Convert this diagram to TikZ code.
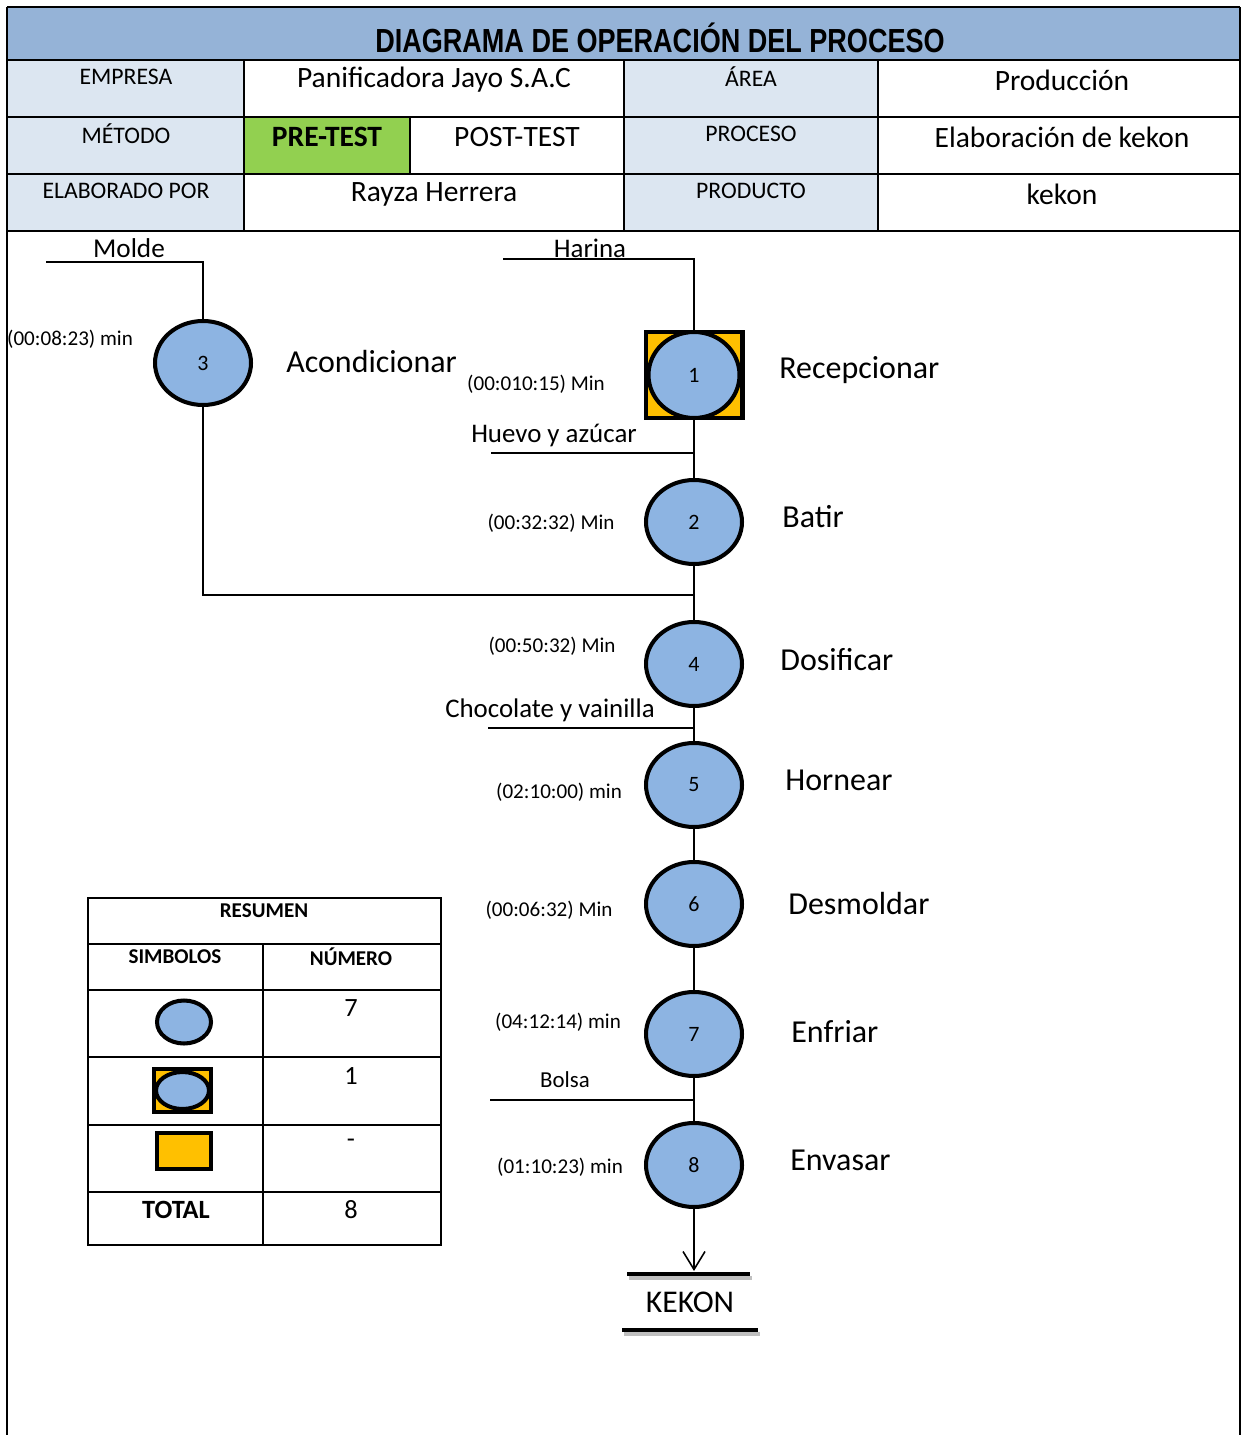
\documentclass[tikz,border=0pt]{standalone}
\usepackage{fontspec}
\setmainfont{Carlito}
\newfontfamily\titlefont[FakeStretch=0.81]{Liberation Sans}
\usetikzlibrary{shapes.geometric,arrows.meta}

\definecolor{headblue}{HTML}{95B3D7}
\definecolor{cellblue}{HTML}{DCE6F1}
\definecolor{pregreen}{HTML}{92D050}
\definecolor{opblue}{HTML}{8DB4E2}
\definecolor{boxorange}{HTML}{FFC000}

\begin{document}
\begin{tikzpicture}[x=0.02cm,y=-0.02cm,
    op/.style={ellipse,draw,line width=2.3pt,fill=opblue,inner sep=0,minimum width=1.92cm,minimum height=1.68cm,font=\numfontsize},
    opname/.style={anchor=west,inner sep=0,font=\opfontsize},
    optime/.style={font=\timefontsize},
    feed/.style={font=\feedfontsize},
    grid/.style={line width=1.2pt},
    bar/.style={line width=2.4pt}]
    \pgfmathsetmacro{\mainx}{694}
    \pgfmathsetmacro{\feedright}{695}
    \providecommand{\titlefontsize}{\fontsize{19pt}{19pt}\selectfont}
    \providecommand{\labelfontsize}{\fontsize{13.5pt}{14pt}\selectfont}
    \providecommand{\valuefontsize}{\fontsize{16.8pt}{17pt}\selectfont}
    \providecommand{\opfontsize}{\fontsize{18.2pt}{19pt}\selectfont}
    \providecommand{\timefontsize}{\fontsize{12pt}{12pt}\selectfont}
    \providecommand{\feedfontsize}{\fontsize{15.3pt}{16pt}\selectfont}
    \providecommand{\numfontsize}{\fontsize{12.5pt}{13pt}\selectfont}
    \useasboundingbox (0,0) rectangle (1241,1435);
    % header
    \fill[headblue] (7,7) rectangle (1240,60);
    \fill[cellblue] (7,60) rectangle (244,231);
    \fill[cellblue] (624,60) rectangle (878,231);
    \fill[pregreen] (244,117) rectangle (410,174);
    \draw[line width=1.6pt] (7,7) -- (1240,7);
    \draw[grid] (7,1435) -- (7,7) (1240,7) -- (1240,1435);
    \draw[line width=1.6pt] (7,60) -- (1240,60);
    \draw[grid] (7,117) -- (1240,117) (7,174) -- (1240,174) (7,231) -- (1240,231);
    \draw[grid] (244,60) -- (244,231) (624,60) -- (624,231) (878,60) -- (878,231) (410,117) -- (410,174);
    \node[font=\titlefontsize\titlefont\bfseries] (title) at (660,38) {DIAGRAMA DE OPERACIÓN DEL PROCESO};
    \node[font=\labelfontsize] (empresa) at (126,77) {EMPRESA};
    \node[font=\valuefontsize] (empresaval) at (434,80) {Panificadora Jayo S.A.C};
    \node[font=\labelfontsize] (area) at (751,77) {ÁREA};
    \node[font=\valuefontsize] (areaval) at (1062,80) {Producción};
    \node[font=\labelfontsize] (metodo) at (126,134) {MÉTODO};
    \node[font=\valuefontsize\bfseries] (pretest) at (327,137) {PRE-TEST};
    \node[font=\valuefontsize] (posttest) at (517,137) {POST-TEST};
    \node[font=\labelfontsize] (proceso) at (751,134) {PROCESO};
    \node[font=\valuefontsize] (procesoval) at (1062,137) {Elaboración de kekon};
    \node[font=\labelfontsize] (elaborado) at (126,191) {ELABORADO POR};
    \node[font=\valuefontsize] (elaboradoval) at (434,194) {Rayza Herrera};
    \node[font=\labelfontsize] (producto) at (751,191) {PRODUCTO};
    \node[font=\valuefontsize] (productoval) at (1062,194) {kekon};

    % operations
    \node[draw,line width=2.3pt,fill=boxorange,minimum width=1.94cm,minimum height=1.72cm,inner sep=0] (op1box) at (\mainx,375) {};
    \node[op,minimum width=1.82cm,minimum height=1.72cm] (op1) at (\mainx,375) {1};
    \node[op] (op2) at (\mainx,522) {2};
    \node[op] (op3) at (203,363) {3};
    \node[op] (op4) at (\mainx,664) {4};
    \node[op] (op5) at (\mainx,785) {5};
    \node[op] (op6) at (\mainx,904) {6};
    \node[op] (op7) at (\mainx,1034) {7};
    \node[op] (op8) at (\mainx,1165) {8};
    \node[opname] (recepcionar) at (779,370) {Recepcionar};
    \node[opname] (batir) at (782,517) {Batir};
    \node[opname] (acondicionar) at (286,362) {Acondicionar};
    \node[opname] (dosificar) at (780,660) {Dosificar};
    \node[opname] (hornear) at (785,780) {Hornear};
    \node[opname] (desmoldar) at (788,904) {Desmoldar};
    \node[opname] (enfriar) at (791,1032) {Enfriar};
    \node[opname] (envasar) at (790,1160) {Envasar};
    \node[optime] (time1) at (536,384) {(00:010:15) Min};
    \node[optime] (time2) at (551,523) {(00:32:32) Min};
    \node[optime] (time3) at (70,339) {(00:08:23) min};
    \node[optime] (time4) at (552,646) {(00:50:32) Min};
    \node[optime] (time5) at (559,792) {(02:10:00) min};
    \node[optime] (time6) at (549,910) {(00:06:32) Min};
    \node[optime] (time7) at (558,1022) {(04:12:14) min};
    \node[optime] (time8) at (560,1167) {(01:10:23) min};

    % feeds
    \node[feed,font=\fontsize{15.5pt}{16pt}\selectfont] (molde) at (129,248) {Molde};
    \node[feed,font=\fontsize{15.3pt}{16pt}\selectfont] (harina) at (590,248) {Harina};
    \node[feed] (huevo) at (554,435) {Huevo y azúcar};
    \node[feed] (chocolate) at (550,710) {Chocolate y vainilla};
    \node[feed,font=\fontsize{13pt}{13pt}\selectfont] (bolsa) at (565,1080) {Bolsa};
    \coordinate (moldeL) at (46,262);
    \coordinate (moldeR) at (203,262);
    \coordinate (harinaL) at (503,259);
    \coordinate (harinaR) at (\mainx,259);
    \coordinate (huevoL) at (491,453);
    \coordinate (huevoR) at (\feedright,453);
    \coordinate (chocoL) at (488,728);
    \coordinate (chocoR) at (\feedright,728);
    \coordinate (bolsaL) at (490,1100);
    \coordinate (bolsaR) at (\feedright,1100);
    \coordinate (join) at (\mainx,595);
    \draw[line width=0.8pt] (moldeL) -- (moldeR) -- (op3);
    \draw[line width=0.8pt] (harinaL) -- (harinaR) -- (op1box);
    \draw[line width=0.8pt] (huevoL) -- (huevoR);
    \draw[line width=0.8pt] (chocoL) -- (chocoR);
    \draw[line width=0.8pt] (bolsaL) -- (bolsaR);
    \draw[line width=0.8pt] (op1box) -- (op2);
    \draw[line width=0.8pt] (op2) -- (op4);
    \draw[line width=0.8pt] (op3) |- (join);
    \draw[line width=0.8pt] (op4) -- (op5);
    \draw[line width=0.8pt] (op5) -- (op6);
    \draw[line width=0.8pt] (op6) -- (op7);
    \draw[line width=0.8pt] (op7) -- (op8);

    % product
    \coordinate (bar1L) at (627,1274);
    \coordinate (bar1R) at (750,1274);
    \coordinate (bar2L) at (622,1330);
    \coordinate (bar2R) at (758,1330);
    \draw[bar,black!25] ([shift={(2,4)}]bar1L) -- ([shift={(2,4)}]bar1R);
    \draw[bar,black!25] ([shift={(2,4)}]bar2L) -- ([shift={(2,4)}]bar2R);
    \draw[bar] (bar1L) -- (bar1R);
    \draw[bar] (bar2L) -- (bar2R);
    \node[font=\fontsize{18pt}{18pt}\selectfont] (kekon) at (690,1302) {KEKON};
    \draw[line width=0.9pt,-{Straight Barb[length=0.36cm,width=0.44cm]}] (op8) -- (\mainx,1271);

    % resumen
    \draw[grid] (88,898) rectangle (441,1245);
    \draw[grid] (88,944) -- (441,944) (88,990) -- (441,990) (88,1057) -- (441,1057)
        (88,1125) -- (441,1125) (88,1192) -- (441,1192) (263,944) -- (263,1245);
    \node[font=\fontsize{12pt}{12pt}\selectfont\bfseries] (resumen) at (264,911) {RESUMEN};
    \node[font=\fontsize{12pt}{12pt}\selectfont\bfseries] (simbolos) at (175,957) {SIMBOLOS};
    \node[font=\fontsize{12pt}{12pt}\selectfont\bfseries] (numero) at (351,957) {NÚMERO};
    \node[font=\fontsize{15pt}{15pt}\selectfont\bfseries] (total) at (176,1210) {TOTAL};
    \node[font=\fontsize{15pt}{15pt}\selectfont] (n1) at (351,1008) {7};
    \node[font=\fontsize{15pt}{15pt}\selectfont] (n2) at (351,1076) {1};
    \node[font=\fontsize{15pt}{15pt}\selectfont] (n3) at (351,1143) {-};
    \node[font=\fontsize{15pt}{15pt}\selectfont] (n4) at (351,1210) {8};
    \node[op,minimum width=1.08cm,minimum height=0.86cm] (symop) at (184,1022) {};
    \node[draw,line width=2.3pt,fill=boxorange,minimum width=1.14cm,minimum height=0.86cm,inner sep=0] (symcombobox) at (182.5,1090.5) {};
    \node[op,minimum width=1.06cm,minimum height=0.74cm] (symcombo) at (182.5,1090.5) {};
    \node[draw,line width=2.3pt,fill=boxorange,minimum width=1.08cm,minimum height=0.72cm,inner sep=0] (symstore) at (184,1151) {};
\end{tikzpicture}
\end{document}
